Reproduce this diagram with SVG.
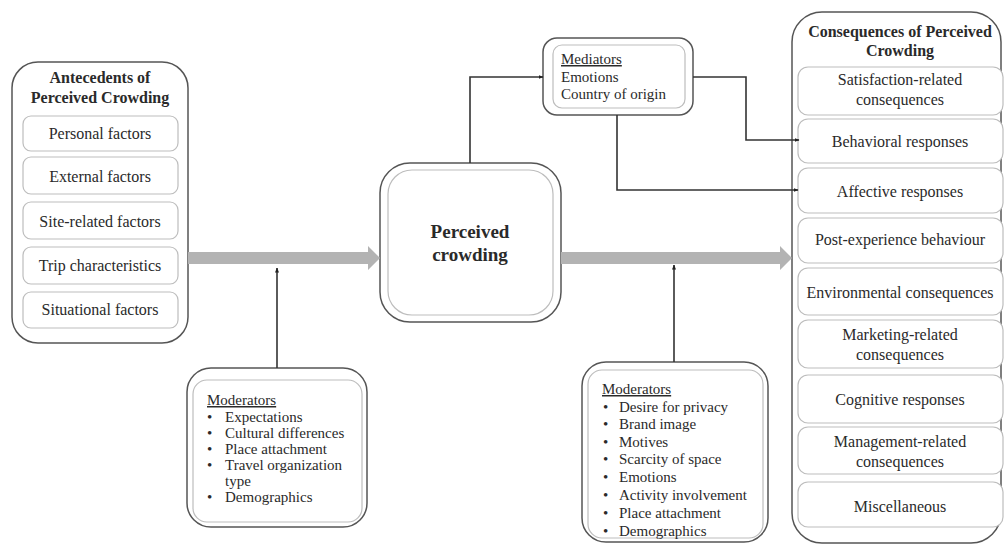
<svg xmlns="http://www.w3.org/2000/svg" width="1004" height="545" viewBox="0 0 1004 545">
<defs>
<style>
text{font-family:"Liberation Serif","Times New Roman",serif;fill:#2a2a2a}
.t16{font-size:16px;text-anchor:middle}
.b16{font-size:16px;font-weight:bold;text-anchor:middle}
.t15{font-size:15px}
.big{font-size:19px;font-weight:bold;text-anchor:middle}
.outer{fill:#fff;stroke:#555;stroke-width:1.5}
.inner{fill:#fff;stroke:#bdbdbd;stroke-width:1.2}
.conn{fill:none;stroke:#333;stroke-width:1.6}
.thick{fill:#b3b3b3;stroke:none}
</style>
<marker id="ah" viewBox="0 0 10 10" refX="9" refY="5" markerWidth="5" markerHeight="5" orient="auto" markerUnits="userSpaceOnUse">
<path d="M0,1 L10,5 L0,9 Z" fill="#222"/>
</marker>
</defs>
<rect width="1004" height="545" fill="#fff"/>

<g id="antecedents">
<rect class="outer" x="12" y="62" width="176" height="281" rx="26"/>
<text class="b16" x="100" y="83">Antecedents of</text>
<text class="b16" x="100" y="103">Perceived Crowding</text>
<rect class="inner" x="23" y="116" width="155" height="35" rx="8"/>
<text class="t16" x="100" y="139">Personal factors</text>
<rect class="inner" x="23" y="157" width="155" height="37" rx="8"/>
<text class="t16" x="100" y="182">External factors</text>
<rect class="inner" x="23" y="202" width="155" height="37" rx="8"/>
<text class="t16" x="100" y="227">Site-related factors</text>
<rect class="inner" x="23" y="247" width="155" height="37" rx="8"/>
<text class="t16" x="100" y="271">Trip characteristics</text>
<rect class="inner" x="23" y="292" width="155" height="36" rx="8"/>
<text class="t16" x="100" y="315">Situational factors</text>
</g>

<g id="moderators-left">
<rect class="outer" x="187" y="368" width="180" height="159" rx="24"/>
<rect class="inner" x="193" y="380" width="169" height="142" rx="14"/>
<text class="t15" x="207" y="405" text-decoration="underline">Moderators</text>
<g class="t15">
<text class="t15" x="207" y="422">•</text><text class="t15" x="225" y="422">Expectations</text>
<text class="t15" x="207" y="438">•</text><text class="t15" x="225" y="438">Cultural differences</text>
<text class="t15" x="207" y="454">•</text><text class="t15" x="225" y="454">Place attachment</text>
<text class="t15" x="207" y="470">•</text><text class="t15" x="225" y="470">Travel organization</text>
<text class="t15" x="225" y="486">type</text>
<text class="t15" x="207" y="502">•</text><text class="t15" x="225" y="502">Demographics</text>
</g>
</g>

<g id="perceived-crowding">
<rect class="outer" x="380" y="163" width="181" height="159" rx="30"/>
<rect class="inner" x="388" y="170" width="165" height="145" rx="24"/>
<text class="big" x="470" y="238">Perceived</text>
<text class="big" x="470" y="261">crowding</text>
</g>

<g id="mediators">
<rect class="outer" x="543" y="38" width="150" height="77" rx="14"/>
<rect class="inner" x="553" y="45" width="132" height="63" rx="9"/>
<text class="t15" x="561" y="64" text-decoration="underline">Mediators</text>
<text class="t15" x="561" y="82">Emotions</text>
<text class="t15" x="561" y="99">Country of origin</text>
</g>

<g id="moderators-right">
<rect class="outer" x="582" y="362" width="186" height="180" rx="24"/>
<rect class="inner" x="588" y="370" width="175" height="168" rx="14"/>
<text class="t15" x="602" y="394" text-decoration="underline">Moderators</text>
<text class="t15" x="603" y="412">•</text><text class="t15" x="619" y="412">Desire for privacy</text>
<text class="t15" x="603" y="429">•</text><text class="t15" x="619" y="429">Brand image</text>
<text class="t15" x="603" y="447">•</text><text class="t15" x="619" y="447">Motives</text>
<text class="t15" x="603" y="464">•</text><text class="t15" x="619" y="464">Scarcity of space</text>
<text class="t15" x="603" y="482">•</text><text class="t15" x="619" y="482">Emotions</text>
<text class="t15" x="603" y="500">•</text><text class="t15" x="619" y="500">Activity involvement</text>
<text class="t15" x="603" y="518">•</text><text class="t15" x="619" y="518">Place attachment</text>
<text class="t15" x="603" y="536">•</text><text class="t15" x="619" y="536">Demographics</text>
</g>

<g id="consequences">
<rect class="outer" x="792" y="12" width="209" height="531" rx="30"/>
<text class="b16" x="900" y="37">Consequences of Perceived</text>
<text class="b16" x="900" y="56">Crowding</text>
<rect class="inner" x="798" y="67" width="205" height="48" rx="10"/>
<text class="t16" x="900" y="85">Satisfaction-related</text>
<text class="t16" x="900" y="105">consequences</text>
<rect class="inner" x="798" y="119" width="205" height="44" rx="10"/>
<text class="t16" x="900" y="147">Behavioral responses</text>
<rect class="inner" x="798" y="168" width="205" height="45" rx="10"/>
<text class="t16" x="900" y="197">Affective responses</text>
<rect class="inner" x="798" y="218" width="205" height="45" rx="10"/>
<text class="t16" x="900" y="245">Post-experience behaviour</text>
<rect class="inner" x="798" y="268" width="205" height="47" rx="10"/>
<text class="t16" x="900" y="298">Environmental consequences</text>
<rect class="inner" x="798" y="320" width="205" height="48" rx="10"/>
<text class="t16" x="900" y="340">Marketing-related</text>
<text class="t16" x="900" y="360">consequences</text>
<rect class="inner" x="798" y="375" width="205" height="48" rx="10"/>
<text class="t16" x="900" y="405">Cognitive responses</text>
<rect class="inner" x="798" y="427" width="205" height="47" rx="10"/>
<text class="t16" x="900" y="447">Management-related</text>
<text class="t16" x="900" y="467">consequences</text>
<rect class="inner" x="798" y="482" width="205" height="45" rx="10"/>
<text class="t16" x="900" y="512">Miscellaneous</text>
</g>

<g id="connectors">
<polygon class="thick" points="188,252 368,252 368,246 380,258 368,270 368,264 188,264"/>
<polygon class="thick" points="561,252 780,252 780,246 792,258 780,270 780,264 561,264"/>
<path class="conn" d="M277,368 V268" marker-end="url(#ah)"/>
<path class="conn" d="M674,362 V265" marker-end="url(#ah)"/>
<path class="conn" d="M470,163 V77 H543" marker-end="url(#ah)"/>
<path class="conn" d="M693,77 H746 V140 H799" marker-end="url(#ah)"/>
<path class="conn" d="M617,115 V190 H798" marker-end="url(#ah)"/>
</g>
</svg>
